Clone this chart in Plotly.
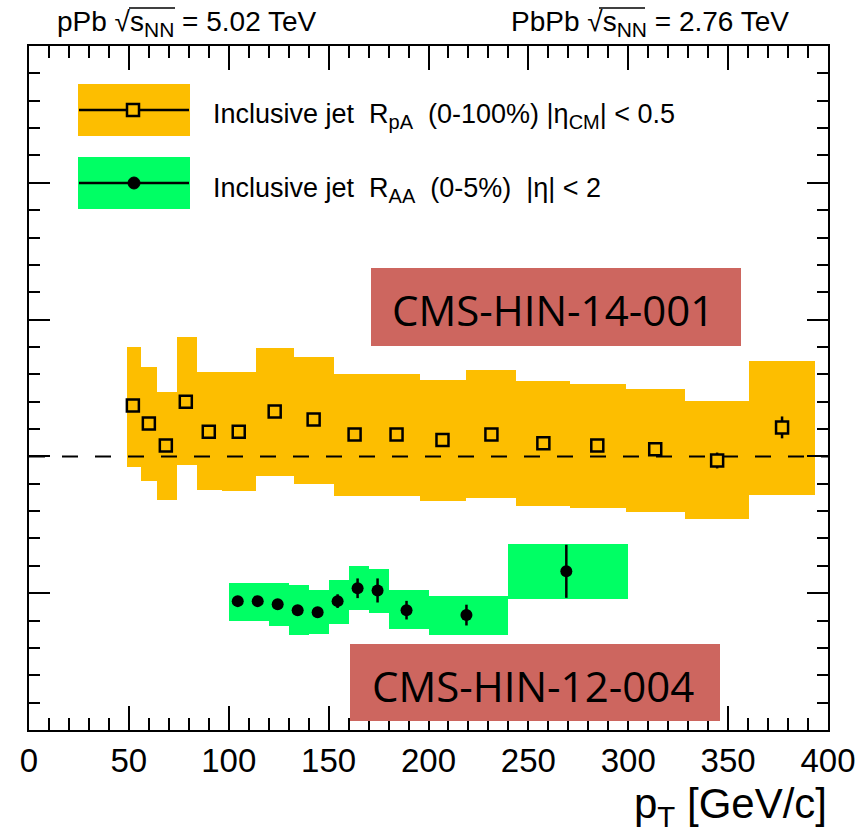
import plotly.graph_objects as go

# ---------------- data ----------------
# pPb inclusive jet R_pA (0-100%), |eta_CM| < 0.5
ppb_pt = [52, 60, 68.5, 78.5, 90, 105, 123, 142.5, 163, 184, 207, 231.5, 257.5, 284.5, 313.5, 344.5, 377]
ppb_r = [1.186, 1.12, 1.04, 1.20, 1.09, 1.09, 1.164, 1.135, 1.08, 1.08, 1.06, 1.08, 1.048, 1.04, 1.026, 0.985, 1.106]
ppb_stat = [0.01, 0.01, 0.01, 0.01, 0.01, 0.01, 0.01, 0.01, 0.01, 0.01, 0.01, 0.012, 0.012, 0.015, 0.02, 0.029, 0.04]
ppb_bin_lo = [49, 56, 64, 74, 84, 96.5, 113.5, 132.5, 152.5, 174, 195.5, 219, 244, 271, 299, 328.5, 360.5]
ppb_bin_hi = [56, 64, 74, 84, 96.5, 113.5, 132.5, 152.5, 174, 195.5, 219, 244, 271, 299, 328.5, 360.5, 393.5]
ppb_sys_hi = [1.40, 1.328, 1.234, 1.438, 1.31, 1.31, 1.398, 1.365, 1.303, 1.303, 1.28, 1.314, 1.274, 1.266, 1.248, 1.204, 1.347]
ppb_sys_lo = [0.963, 0.909, 0.84, 0.967, 0.876, 0.872, 0.93, 0.90, 0.854, 0.854, 0.836, 0.847, 0.82, 0.81, 0.796, 0.77, 0.858]

# PbPb inclusive jet R_AA (0-5%), |eta| < 2
pbpb_pt = [104.5, 114.5, 124.5, 134.5, 144.5, 154.5, 164.5, 174.5, 189, 219, 269]
pbpb_r = [0.471, 0.471, 0.46, 0.438, 0.43, 0.471, 0.518, 0.51, 0.438, 0.42, 0.58]
pbpb_stat = [0.008, 0.008, 0.008, 0.008, 0.008, 0.025, 0.036, 0.044, 0.034, 0.038, 0.097]
pbpb_bin_lo = [100, 110, 120, 130, 140, 150, 160, 170, 180, 200, 240]
pbpb_bin_hi = [110, 120, 130, 140, 150, 160, 170, 180, 200, 240, 300]
pbpb_sys_hi = [0.539, 0.539, 0.539, 0.529, 0.51, 0.547, 0.598, 0.588, 0.511, 0.489, 0.679]
pbpb_sys_lo = [0.399, 0.399, 0.381, 0.348, 0.352, 0.388, 0.439, 0.428, 0.37, 0.348, 0.479]

x_ticks = [0, 50, 100, 150, 200, 250, 300, 350, 400]

ORANGE = "#FDBE00"
GREEN = "#00FF64"
RED = "#CD665F"
FONT = "Liberation Sans, Arial, Helvetica, sans-serif"

W, H = 868, 837
L, R, T, B = 29, 828, 46, 730  # plot-area pixel edges


def px(xp):
    return (xp - L) / (R - L)


def py(yp):
    return (B - yp) / (B - T)


def sub(s, size):
    return "<sub><span style='font-size:%dpx'>%s</span></sub>" % (size, s)


fig = go.Figure()

# systematic boxes
fig.add_trace(go.Bar(
    x=[(a + b) / 2 for a, b in zip(ppb_bin_lo, ppb_bin_hi)],
    y=[h - l for h, l in zip(ppb_sys_hi, ppb_sys_lo)],
    base=ppb_sys_lo,
    width=[b - a for a, b in zip(ppb_bin_lo, ppb_bin_hi)],
    marker=dict(color=ORANGE, line=dict(width=0)),
    showlegend=False, hoverinfo="skip",
))
fig.add_trace(go.Bar(
    x=[(a + b) / 2 for a, b in zip(pbpb_bin_lo, pbpb_bin_hi)],
    y=[h - l for h, l in zip(pbpb_sys_hi, pbpb_sys_lo)],
    base=pbpb_sys_lo,
    width=[b - a for a, b in zip(pbpb_bin_lo, pbpb_bin_hi)],
    marker=dict(color=GREEN, line=dict(width=0)),
    showlegend=False, hoverinfo="skip",
))

# points
fig.add_trace(go.Scatter(
    x=ppb_pt, y=ppb_r, mode="markers",
    marker=dict(symbol="square", size=12, color=ORANGE, line=dict(width=2.5, color="black")),
    error_y=dict(type="data", array=ppb_stat, color="black", thickness=2.5, width=0),
    showlegend=False,
))
fig.add_trace(go.Scatter(
    x=pbpb_pt, y=pbpb_r, mode="markers",
    marker=dict(symbol="circle", size=12, color="black"),
    error_y=dict(type="data", array=pbpb_stat, color="black", thickness=2.5, width=0),
    showlegend=False,
))

shapes = []
# dashed reference line at unity
shapes.append(dict(type="line", xref="x", yref="y", x0=0, x1=400, y0=1, y1=1,
                   line=dict(color="black", width=2, dash="16px,17px"), layer="above"))

# legend boxes (drawn by hand, ROOT style)
for (y0, y1, col) in [(84, 136, ORANGE), (157, 209, GREEN)]:
    shapes.append(dict(type="rect", xref="paper", yref="paper",
                       x0=px(78), x1=px(190), y0=py(y1), y1=py(y0),
                       fillcolor=col, line=dict(width=0), layer="above"))
    ym = (y0 + y1) / 2
    shapes.append(dict(type="line", xref="paper", yref="paper",
                       x0=px(79), x1=px(189), y0=py(ym), y1=py(ym),
                       line=dict(color="black", width=2.5), layer="above"))
shapes.append(dict(type="rect", xref="paper", yref="paper",
                   x0=px(127), x1=px(139), y0=py(116), y1=py(104),
                   fillcolor=ORANGE, line=dict(color="black", width=2.5), layer="above"))
shapes.append(dict(type="circle", xref="paper", yref="paper",
                   x0=px(128), x1=px(140), y0=py(189), y1=py(177),
                   fillcolor="black", line=dict(color="black", width=1), layer="above"))

# overlines of the square roots in the top labels
for (xa, xb) in [(129, 175), (599, 645)]:
    shapes.append(dict(type="line", xref="paper", yref="paper",
                       x0=px(xa), x1=px(xb), y0=py(8), y1=py(8),
                       line=dict(color="black", width=1.5), layer="above"))

# red publication-label boxes
shapes.append(dict(type="rect", xref="paper", yref="paper",
                   x0=px(371), x1=px(741), y0=py(346), y1=py(268),
                   fillcolor=RED, line=dict(width=0), layer="above"))
shapes.append(dict(type="rect", xref="paper", yref="paper",
                   x0=px(350), x1=px(720), y0=py(721), y1=py(644),
                   fillcolor=RED, line=dict(width=0), layer="above"))

annotations = [
    dict(text="CMS-HIN-14-001", x=px(553), y=py(309), xref="paper", yref="paper",
         showarrow=False, xanchor="center", yanchor="middle",
         font=dict(family="Open Sans, sans-serif", size=42, color="black")),
    dict(text="CMS-HIN-12-004", x=px(533), y=py(685), xref="paper", yref="paper",
         showarrow=False, xanchor="center", yanchor="middle",
         font=dict(family="Open Sans, sans-serif", size=42, color="black")),
    dict(text="Inclusive jet  R" + sub("pA", 20) + "  (0-100%) |η" + sub("CM", 20) + "| < 0.5",
         x=px(211), y=py(116), xref="paper", yref="paper", showarrow=False,
         xanchor="left", yanchor="middle", font=dict(family=FONT, size=27, color="black")),
    dict(text="Inclusive jet  R" + sub("AA", 20) + "  (0-5%)  |η| < 2",
         x=px(211), y=py(190), xref="paper", yref="paper", showarrow=False,
         xanchor="left", yanchor="middle", font=dict(family=FONT, size=27, color="black")),
    dict(text="pPb √s" + sub("NN", 21) + " = 5.02 TeV", x=px(55), y=py(24), xref="paper", yref="paper",
         showarrow=False, xanchor="left", yanchor="middle",
         font=dict(family=FONT, size=28, color="black")),
    dict(text="PbPb √s" + sub("NN", 21) + " = 2.76 TeV", x=px(509), y=py(24), xref="paper", yref="paper",
         showarrow=False, xanchor="left", yanchor="middle",
         font=dict(family=FONT, size=28, color="black")),
    dict(text="p<sub>T</sub> [GeV/c]", x=px(829), y=py(806), xref="paper", yref="paper",
         showarrow=False, xanchor="right", yanchor="middle",
         font=dict(family=FONT, size=42, color="black")),
]

fig.update_layout(
    width=W, height=H,
    margin=dict(l=L, r=W - R, t=T, b=H - B, pad=0),
    paper_bgcolor="white", plot_bgcolor="white",
    barmode="overlay", bargap=0, showlegend=False,
    shapes=shapes, annotations=annotations,
    font=dict(family=FONT, color="black"),
)
fig.update_xaxes(
    range=[0, 400], tickmode="array", tickvals=x_ticks, ticktext=[str(v) for v in x_ticks],
    ticks="inside", ticklen=24, tickwidth=2, tickcolor="black",
    minor=dict(dtick=10, ticks="inside", ticklen=12, tickwidth=2, tickcolor="black"),
    showline=True, linewidth=2, linecolor="black", mirror="ticks",
    showgrid=False, zeroline=False,
    tickfont=dict(family=FONT, size=33, color="black"),
)
fig.update_yaxes(
    range=[0, 2.5], dtick=0.5, tick0=0, showticklabels=False,
    ticks="inside", ticklen=21, tickwidth=2, tickcolor="black",
    minor=dict(dtick=0.1, ticks="inside", ticklen=11, tickwidth=2, tickcolor="black"),
    showline=True, linewidth=2, linecolor="black", mirror="ticks",
    showgrid=False, zeroline=False,
)

fig.write_html("out.html")
